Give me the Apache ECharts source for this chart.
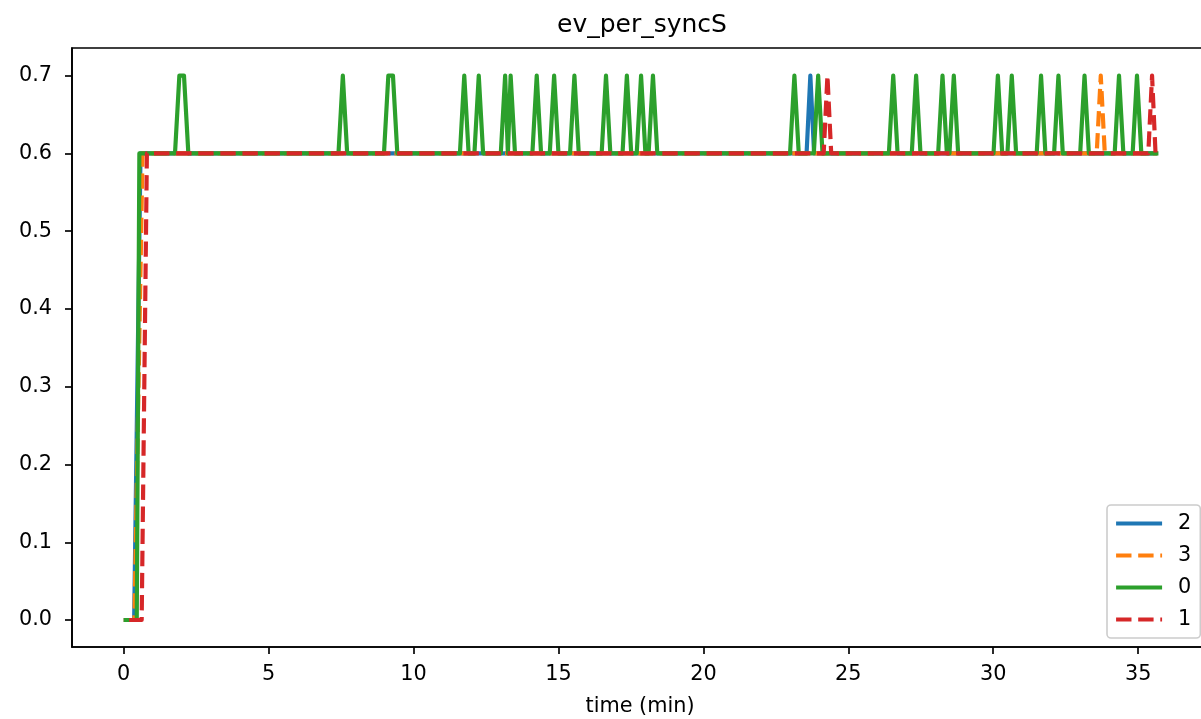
<!DOCTYPE html>
<html>
<head>
<meta charset="utf-8">
<script src="https://cdn.jsdelivr.net/npm/echarts@6/dist/echarts.min.js"></script>
<style>
html,body{margin:0;padding:0;background:#fff;}
#chart{width:1201px;height:719px;}
</style>
</head>
<body>
<div id="chart"></div>
<script>
// ---- data ----
const seriesNames = ["2", "3", "0", "1"];
const xTicks = [0, 5, 10, 15, 20, 25, 30, 35];
const yTicks = [0.0, 0.1, 0.2, 0.3, 0.4, 0.5, 0.6, 0.7];

const time2 = [0, 0.36, 0.58, 23.56, 23.69, 23.82, 35.66];
const value2 = [0, 0, 0.6, 0.6, 0.7, 0.6, 0.6];

const time3 = [0, 0.37, 0.65, 33.57, 33.71, 33.85, 35.66];
const value3 = [0, 0, 0.6, 0.6, 0.7, 0.6, 0.6];

const time0 = [0, 0.45, 0.54,
  1.77, 1.92, 2.08, 2.23,
  7.41, 7.56, 7.71,
  8.98, 9.13, 9.29, 9.44,
  11.60, 11.75, 11.90,
  12.10, 12.25, 12.40,
  13.01, 13.16, 13.255, 13.35, 13.50,
  14.10, 14.25, 14.40,
  14.70, 14.85, 15.00,
  15.40, 15.55, 15.70,
  16.49, 16.64, 16.79,
  17.21, 17.36, 17.51,
  17.70, 17.85, 18.00,
  18.11, 18.26, 18.41,
  22.99, 23.14, 23.29,
  23.81, 23.96, 24.11,
  26.40, 26.55, 26.70,
  27.19, 27.34, 27.49,
  28.10, 28.25, 28.40,
  28.49, 28.64, 28.79,
  30.01, 30.16, 30.31,
  30.49, 30.64, 30.79,
  31.50, 31.65, 31.80,
  32.10, 32.25, 32.40,
  33.00, 33.15, 33.30,
  34.19, 34.34, 34.49,
  34.81, 34.96, 35.11,
  35.70];
const value0 = [0, 0, 0.6,
  0.6, 0.7, 0.7, 0.6,
  0.6, 0.7, 0.6,
  0.6, 0.7, 0.7, 0.6,
  0.6, 0.7, 0.6,
  0.6, 0.7, 0.6,
  0.6, 0.7, 0.6, 0.7, 0.6,
  0.6, 0.7, 0.6,
  0.6, 0.7, 0.6,
  0.6, 0.7, 0.6,
  0.6, 0.7, 0.6,
  0.6, 0.7, 0.6,
  0.6, 0.7, 0.6,
  0.6, 0.7, 0.6,
  0.6, 0.7, 0.6,
  0.6, 0.7, 0.6,
  0.6, 0.7, 0.6,
  0.6, 0.7, 0.6,
  0.6, 0.7, 0.6,
  0.6, 0.7, 0.6,
  0.6, 0.7, 0.6,
  0.6, 0.7, 0.6,
  0.6, 0.7, 0.6,
  0.6, 0.7, 0.6,
  0.6, 0.7, 0.6,
  0.6, 0.7, 0.6,
  0.6, 0.7, 0.6,
  0.6];

const time1 = [0.19, 0.62, 0.80, 24.15, 24.28, 24.41, 35.35, 35.48, 35.60, 35.65];
const value1 = [0, 0, 0.6, 0.6, 0.7, 0.6, 0.6, 0.7, 0.6, 0.6];

// ---- build chart ----
const FONT = "DejaVu Sans";
const LW = 4.17;
const AX = 1.67;
function pairs(t, v) { return t.map((x, i) => [x, v[i]]); }

const seriesDefs = [
  { name: "2", data: pairs(time2, value2), color: "#1f77b4", dash: "solid" },
  { name: "3", data: pairs(time3, value3), color: "#ff7f0e", dash: [15.4, 6.7] },
  { name: "0", data: pairs(time0, value0), color: "#2ca02c", dash: "solid" },
  { name: "1", data: pairs(time1, value1), color: "#d62728", dash: [15.4, 6.7] }
];

const chart = echarts.init(document.getElementById("chart"), null, { renderer: "canvas" });
chart.setOption({
  animation: false,
  backgroundColor: "#ffffff",
  title: {
    text: "ev_per_syncS",
    left: 552,
    top: 8,
    textStyle: { fontFamily: FONT, fontSize: 25, fontWeight: "normal", color: "#000" }
  },
  grid: {
    left: 72, top: 48, width: 1136, height: 599,
    show: true, borderColor: "#000", borderWidth: AX, backgroundColor: "transparent",
    containLabel: false,
    outerBoundsMode: "none"
  },
  legend: {
    data: seriesNames,
    orient: "vertical",
    left: 1107, top: 505,
    padding: [8, 9, 8, 7],
    itemWidth: 46, itemHeight: 14, itemGap: 11,
    backgroundColor: "rgba(255,255,255,0.8)",
    borderColor: "#cccccc", borderWidth: 1.6, borderRadius: 4,
    itemStyle: { color: "rgba(0,0,0,0)", borderWidth: 0, opacity: 0 },
    lineStyle: { width: LW },
    textStyle: { fontFamily: FONT, fontSize: 20.8, color: "#000", lineHeight: 20, padding: [0, 0, 0, 11] }
  },
  xAxis: {
    type: "value",
    min: -1.784, max: 37.41,
    name: "time (min)",
    nameLocation: "middle",
    nameGap: 49,
    nameTextStyle: { fontFamily: FONT, fontSize: 20.8, color: "#000" },
    axisLine: { show: true, onZero: false, lineStyle: { color: "#000", width: AX } },
    axisTick: { show: true, inside: false, length: 7, customValues: xTicks, lineStyle: { color: "#000", width: AX } },
    axisLabel: { show: true, margin: 17, customValues: xTicks, fontFamily: FONT, fontSize: 20.8, color: "#000",
      formatter: v => String(v) },
    splitLine: { show: false }
  },
  yAxis: {
    type: "value",
    min: -0.0347, max: 0.7356,
    axisLine: { show: true, onZero: false, lineStyle: { color: "#000", width: AX } },
    axisTick: { show: true, inside: false, length: 7, customValues: yTicks, lineStyle: { color: "#000", width: AX } },
    axisLabel: { show: true, margin: 20, customValues: yTicks, fontFamily: FONT, fontSize: 20.8, color: "#000",
      formatter: v => Number(v).toFixed(1) },
    splitLine: { show: false }
  },
  series: seriesDefs.map(s => ({
    name: s.name,
    type: "line",
    data: s.data,
    symbol: "none",
    showSymbol: false,
    clip: true,
    color: s.color,
    lineStyle: { color: s.color, width: LW, type: s.dash, cap: "butt", join: "round" },
    emphasis: { disabled: true }
  }))
});
</script>
</body>
</html>
